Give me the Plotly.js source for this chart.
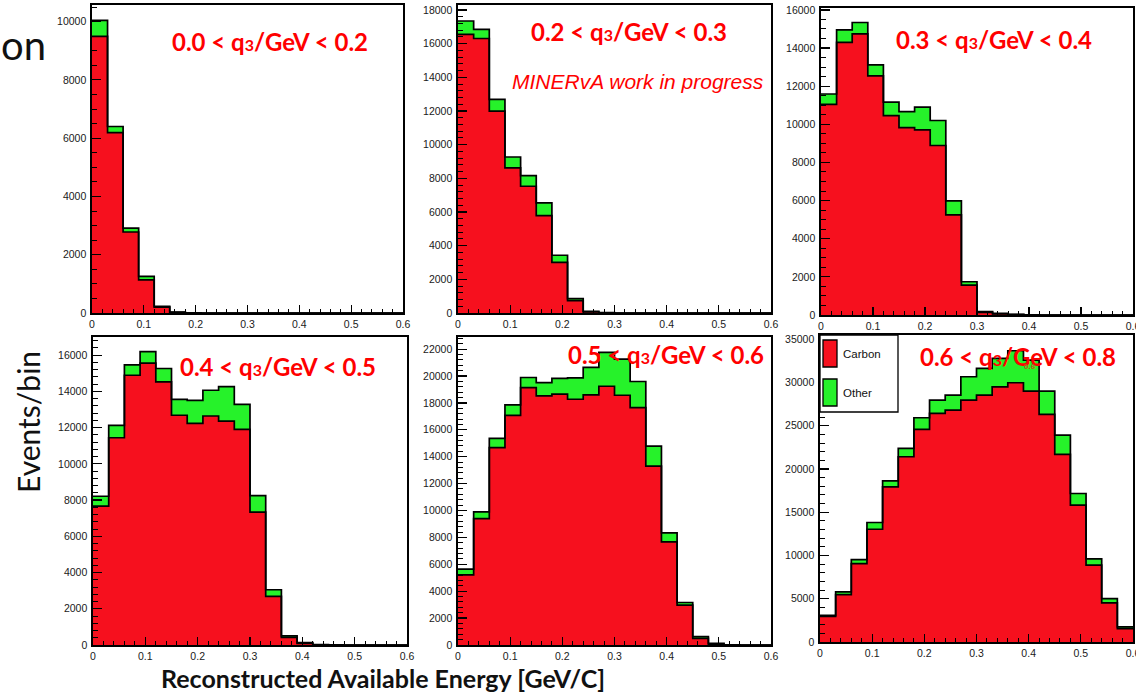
<!DOCTYPE html>
<html><head><meta charset="utf-8">
<script src="https://cdn.plot.ly/plotly-3.0.1.min.js"></script>
<style>html,body{margin:0;padding:0;background:#fff}#chart{width:1136px;height:692px}</style>
</head><body><div id="chart"></div>
<script>
// ---- DATA ----
// Bin edges of reconstructed available energy [GeV] (20 bins of 0.03)
const binEdges = [0, 0.03, 0.06, 0.09, 0.12, 0.15, 0.18, 0.21, 0.24, 0.27, 0.30,
                  0.33, 0.36, 0.39, 0.42, 0.45, 0.48, 0.51, 0.54, 0.57, 0.60];
const seriesNames = ['Carbon', 'Other'];
const q3Low  = ['0.0', '0.2', '0.3', '0.4', '0.5', '0.6'];
const q3High = ['0.2', '0.3', '0.4', '0.5', '0.6', '0.8'];

const carbon1 = [9490, 6190, 2780, 1140, 205, 22, 5, 0, 0, 0, 0, 0, 0, 0, 0, 0, 0, 0, 0, 0];
const other1  = [ 550,  210,  135,  115,  25, 12, 3, 0, 0, 0, 0, 0, 0, 0, 0, 0, 0, 0, 0, 0];

const carbon2 = [16550, 16310, 11990, 8620, 7530, 5790, 3010, 730, 60, 12, 0, 0, 0, 0, 0, 0, 0, 0, 0, 0];
const other2  = [  800,   540,   700,  650,  630,  750,  420, 120, 40,  8, 0, 0, 0, 0, 0, 0, 0, 0, 0, 0];

const carbon3 = [11050, 14300, 14740, 12540, 10460, 9830, 9710, 8890, 5250, 1570, 140, 60, 20, 5, 0, 0, 0, 0, 0, 0];
const other3  = [  540,   650,   600,   580,   700,  840, 1190, 1310,  735,  175,  35, 27, 10, 3, 0, 0, 0, 0, 0, 0];

const carbon4 = [7660, 11440, 14890, 15560, 14520, 12680, 12230, 12640, 12360, 11900, 7330, 2680, 425, 90, 15, 5, 0, 0, 0, 0];
const other4  = [ 550,   680,   570,   630,   740,   880,  1270,  1420,  1900,  1380,  920,  370,  75, 40,  5, 5, 0, 0, 0, 0];

const carbon5 = [5220, 9400, 14670, 17080, 19140, 18520, 18650, 18270, 18600, 19240, 18570, 17650, 13300, 7660, 2960, 500, 50, 10, 0, 0];
const other5  = [ 420,  500,   700,   770,   750,   990,  1170,  1590,  2040,  2510,  2680,  1940,  1490,  670,  200, 120, 75, 10, 0, 0];

const carbon6 = [2950, 5480, 9070, 13040, 17940, 21420, 24580, 26440, 26820, 27980, 28550, 29510, 29980, 29020, 26320, 21690, 15820, 8880, 4520, 1540];
const other6  = [ 140,  310,  460,   780,   700,   960,  1350,  1540,  1730,  2690,  3090,  3280,  3700,  3580,  2700,  2240,  1350,  730,  500,  200];

const carbonSets = [carbon1, carbon2, carbon3, carbon4, carbon5, carbon6];
const otherSets  = [other1, other2, other3, other4, other5, other6];

// ---- STYLE / LAYOUT ----
const W = 1136, H = 692;
const RED = '#f6101e', GREEN = '#26f22a';
// panel frames in pixels: [left, right, top, bottom]
const frames = [
  [92, 403, 5, 313],
  [458, 771, 5, 313],
  [821, 1133, 8, 315],
  [93, 407, 337, 645],
  [458, 771, 337, 645],
  [820, 1133, 335, 642]
];
const yMax   = [10570, 18300, 16100, 17000, 22900, 35500];
const yDtick = [2000, 2000, 2000, 2000, 2000, 5000];
const yMinor = [500, 400, 500, 400, 400, 1000];
const labelPos = [[270, 41], [629, 32], [994, 39], [278, 366], [666, 355], [1018, 356]];

const tickFont = {family: 'Liberation Sans, Arial, sans-serif', size: 10.5, color: '#1a1a1a'};
const traces = [];
const layout = {
  width: W, height: H,
  margin: {l: 0, r: 0, t: 0, b: 0},
  paper_bgcolor: '#fff', plot_bgcolor: '#fff',
  showlegend: false,
  annotations: [], shapes: []
};

function stepY(arr) { return arr.concat([arr[arr.length - 1]]); }

for (let p = 0; p < 6; p++) {
  const n = p + 1;
  const c = carbonSets[p];
  const tot = c.map((v, i) => v + otherSets[p][i]);
  const xa = 'x' + (n === 1 ? '' : n), ya = 'y' + (n === 1 ? '' : n);
  traces.push({
    type: 'scatter', mode: 'lines', name: seriesNames[0],
    x: binEdges, y: stepY(c), xaxis: xa, yaxis: ya,
    line: {shape: 'hv', color: '#000', width: 1.7},
    fill: 'tozeroy', fillcolor: RED, hoverinfo: 'skip'
  });
  traces.push({
    type: 'scatter', mode: 'lines', name: seriesNames[1],
    x: binEdges, y: stepY(tot), xaxis: xa, yaxis: ya,
    line: {shape: 'hv', color: '#000', width: 1.7},
    fill: 'tonexty', fillcolor: GREEN, hoverinfo: 'skip'
  });
  const f = frames[p];
  const xk = 'xaxis' + (n === 1 ? '' : n), yk = 'yaxis' + (n === 1 ? '' : n);
  layout[xk] = {
    domain: [f[0] / W, f[1] / W], anchor: ya,
    range: [0, 0.6], dtick: 0.1, tick0: 0,
    ticks: 'inside', ticklen: 8, tickwidth: 1.2, tickcolor: '#000',
    minor: {ticks: 'inside', ticklen: 4, tickwidth: 1, tickcolor: '#000', dtick: 0.02, showgrid: false},
    showline: true, linecolor: '#000', linewidth: 1.6, mirror: true,
    showgrid: false, zeroline: false, tickfont: tickFont, ticklabelstandoff: 1,
    ticklabeloverflow: 'allow'
  };
  layout[yk] = {
    domain: [1 - f[3] / H, 1 - f[2] / H], anchor: xa,
    range: [0, yMax[p]], dtick: yDtick[p], tick0: 0, tickformat: 'd',
    ticks: 'inside', ticklen: 9, tickwidth: 1.2, tickcolor: '#000',
    minor: {ticks: 'inside', ticklen: 5, tickwidth: 1, tickcolor: '#000', dtick: yMinor[p], showgrid: false},
    showline: true, linecolor: '#000', linewidth: 1.6, mirror: true,
    showgrid: false, zeroline: false, tickfont: tickFont, ticklabelstandoff: 2,
    ticklabeloverflow: 'allow'
  };
  layout.annotations.push({
    xref: 'paper', yref: 'paper', x: labelPos[p][0] / W, y: 1 - labelPos[p][1] / H,
    xanchor: 'center', yanchor: 'middle', showarrow: false,
    text: q3Low[p] + ' &lt; q<span style="font-size:16px">3</span>/GeV &lt; ' + q3High[p],
    font: {family: 'Lato, Calibri, sans-serif', size: 24, color: '#ff0000', weight: 'bold'}
  });
}

// extra texts
layout.annotations.push(
  {xref: 'paper', yref: 'paper', x: 638 / W, y: 1 - 82 / H, xanchor: 'center', yanchor: 'middle', showarrow: false,
   text: 'MINERvA work in progress',
   font: {family: 'Liberation Sans, Arial, sans-serif', size: 21, color: '#ff0000', style: 'italic'}},
  {xref: 'paper', yref: 'paper', x: -1 / W, y: 1 - 45 / H, xanchor: 'left', yanchor: 'middle', showarrow: false,
   text: 'on', font: {family: 'Lato, Calibri, sans-serif', size: 40, color: '#111'}},
  {xref: 'paper', yref: 'paper', x: 28 / W, y: 1 - 422 / H, xanchor: 'center', yanchor: 'middle', showarrow: false,
   textangle: -90, text: 'Events/bin', font: {family: 'Lato, Calibri, sans-serif', size: 30, color: '#111'}},
  {xref: 'paper', yref: 'paper', x: 383 / W, y: 1 - 678 / H, xanchor: 'center', yanchor: 'middle', showarrow: false,
   text: 'Reconstructed Available Energy [GeV/C]',
   font: {family: 'Lato, Calibri, sans-serif', size: 25, color: '#111', weight: 'bold'}},
  {xref: 'paper', yref: 'paper', x: 1030 / W, y: 1 - 366 / H, xanchor: 'center', yanchor: 'middle', showarrow: false,
   text: '0.6', font: {family: 'Liberation Sans, Arial, sans-serif', size: 8, color: '#c0501a', weight: 'bold'}},
  {xref: 'paper', yref: 'paper', x: 841 / W, y: 1 - 354 / H, xanchor: 'left', yanchor: 'middle', showarrow: false,
   text: seriesNames[0], font: {family: 'Liberation Sans, Arial, sans-serif', size: 11.5, color: '#111'}},
  {xref: 'paper', yref: 'paper', x: 841 / W, y: 1 - 393 / H, xanchor: 'left', yanchor: 'middle', showarrow: false,
   text: seriesNames[1], font: {family: 'Liberation Sans, Arial, sans-serif', size: 11.5, color: '#111'}}
);

// legend box (ROOT style) in panel 6
layout.shapes.push(
  {type: 'rect', xref: 'paper', yref: 'paper', x0: 820 / W, x1: 898 / W, y0: 1 - 412 / H, y1: 1 - 335 / H,
   fillcolor: '#fff', line: {color: '#000', width: 1.3}, layer: 'above'},
  {type: 'rect', xref: 'paper', yref: 'paper', x0: 823 / W, x1: 837 / W, y0: 1 - 367 / H, y1: 1 - 340 / H,
   fillcolor: RED, line: {color: '#000', width: 1.3}, layer: 'above'},
  {type: 'rect', xref: 'paper', yref: 'paper', x0: 823 / W, x1: 837 / W, y0: 1 - 406 / H, y1: 1 - 379 / H,
   fillcolor: GREEN, line: {color: '#000', width: 1.3}, layer: 'above'}
);

Plotly.newPlot('chart', traces, layout, {staticPlot: true, displayModeBar: false});
</script>
</body></html>
